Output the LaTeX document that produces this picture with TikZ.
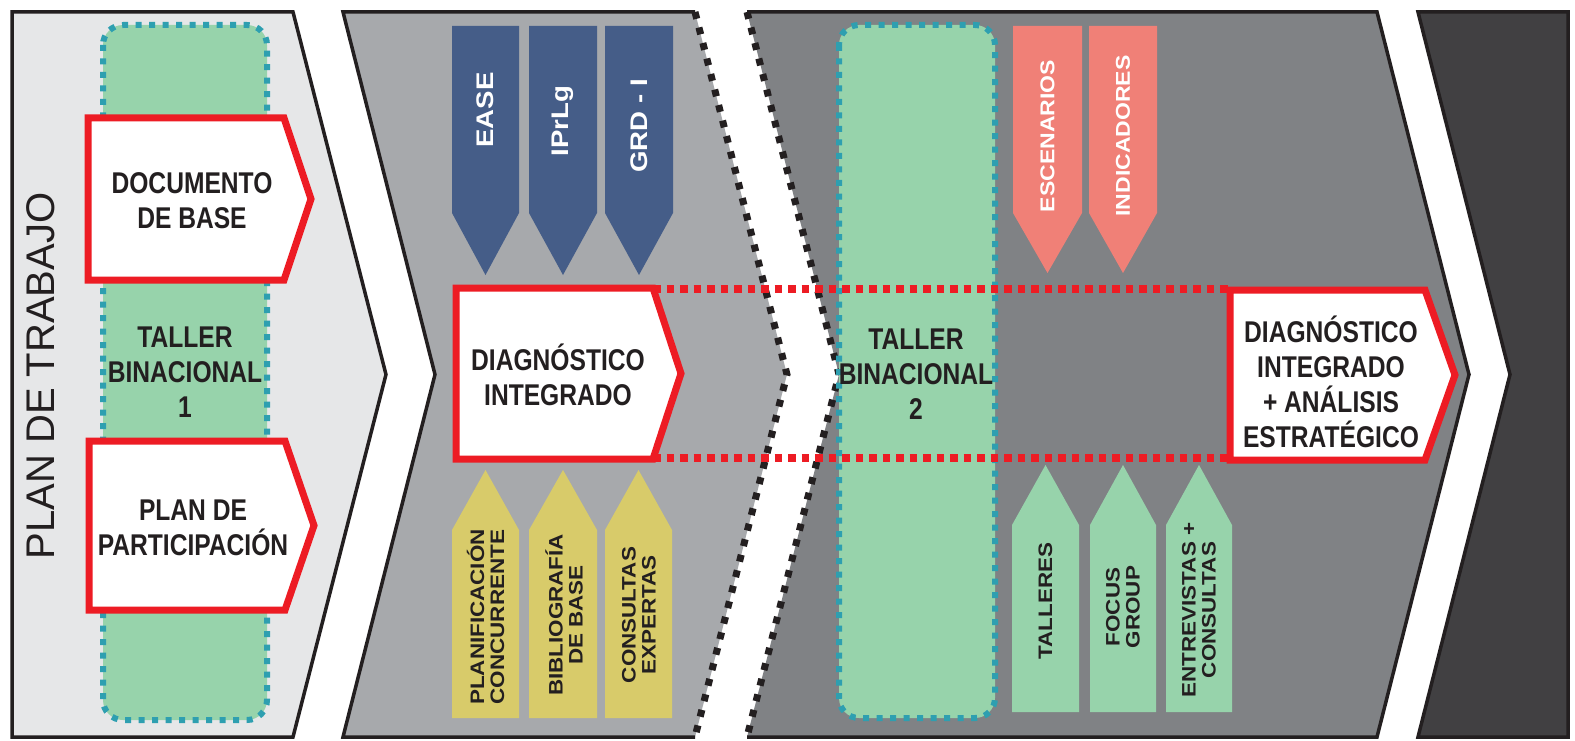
\documentclass[tikz,border=0pt]{standalone}
\usepackage{fontspec}
\setmainfont{Liberation Sans}
\newfontfamily\condfont[FakeStretch=0.82]{Liberation Sans Bold}
\newfontfamily\widefont[FakeStretch=1.15]{Liberation Sans Bold}
\definecolor{ink}{HTML}{231F20}
\definecolor{pone}{HTML}{E6E7E8}
\definecolor{ptwo}{HTML}{A7A9AC}
\definecolor{pthree}{HTML}{808285}
\definecolor{pfour}{HTML}{414042}
\definecolor{greenfill}{HTML}{97D3AB}
\definecolor{tealline}{HTML}{2E9FB0}
\definecolor{bluearrow}{HTML}{455D88}
\definecolor{yellowarrow}{HTML}{D8CB6A}
\definecolor{salmonarrow}{HTML}{F08077}
\definecolor{redline}{HTML}{ED1C24}
\newcommand\pentarrow[6]{\fill[#6] (#1,#3) -- (#2,#3) -- (#2,#4) -- ({(#1+#2)/2},#5) -- (#1,#4) -- cycle;}
\begin{document}
\begin{tikzpicture}[x=1pt,y=-1pt,
  panelline/.style={draw=ink,line width=3.5pt,line join=miter},
  blackdots/.style={draw=ink,line width=7pt,dash pattern=on 7pt off 9pt},
  tealbox/.style={draw=tealline,fill=greenfill,line width=6pt,dash pattern=on 6pt off 7.5pt,rounded corners=20pt},
  reddots/.style={draw=redline,line width=8pt,dash pattern=on 7.5pt off 6pt},
  redbox/.style={draw=redline,fill=white,line width=7pt,line join=miter},
  bigtxt/.style={font=\condfont\fontsize{30}{35}\selectfont,text=ink,align=center,inner sep=0pt},
  vtxt/.style={rotate=90,align=center,inner sep=0pt},
  toptxt/.style={vtxt,text=white,font=\widefont\fontsize{24}{26}\selectfont},
  saltxt/.style={vtxt,text=white,font=\widefont\fontsize{20}{22}\selectfont},
  bottxt/.style={vtxt,text=ink,font=\widefont\fontsize{19.5}{20}\selectfont}]
\useasboundingbox (0,0) rectangle (1575,741);
% panels
\path[fill=pone,panelline] (12,12) -- (293,12) -- (386,374.5) -- (293,737) -- (12,737) -- cycle;
\fill[ptwo] (343,12) -- (695,12) -- (787,374.5) -- (695,737) -- (343,737) -- (435,374.5) -- cycle;
\draw[panelline] (695,12) -- (343,12) -- (435,374.5) -- (343,737) -- (695,737);
\draw[blackdots] (695,12) -- (787,374.5) -- (695,737);
\fill[pthree] (747,12) -- (1377,12) -- (1469,374.5) -- (1377,737) -- (747,737) -- (839,374.5) -- cycle;
\draw[panelline] (747,12) -- (1377,12) -- (1469,374.5) -- (1377,737) -- (747,737);
\draw[blackdots] (747,12) -- (839,374.5) -- (747,737);
\path[fill=pfour,panelline] (1418,12) -- (1568,12) -- (1568,737) -- (1418,737) -- (1510,374.5) -- cycle;
% green workshop boxes
\path[tealbox] (103,25) rectangle (267,720);
\path[tealbox] (839,25) rectangle (995,718);
% red dotted links
\coordinate (linkta) at (653,289);
\coordinate (linktb) at (1230,289);
\coordinate (linkba) at (653,458);
\coordinate (linkbb) at (1230,458);
\draw[reddots] (linkta) -- (linktb);
\draw[reddots] (linkba) -- (linkbb);
% red pentagons
\path[redbox] (88,118) -- (284,118) -- (311,199) -- (284,280) -- (88,280) -- cycle;
\path[redbox] (89,441) -- (285,441) -- (314,525.5) -- (285,610) -- (89,610) -- cycle;
\path[redbox] (456,288) -- (653,288) -- (681,373.5) -- (653,459) -- (456,459) -- cycle;
\path[redbox] (1230,290) -- (1425,290) -- (1455,375) -- (1425,460) -- (1230,460) -- cycle;
% arrows
\pentarrow{452}{519}{26}{213}{275}{bluearrow}
\pentarrow{529}{597}{26}{213}{275}{bluearrow}
\pentarrow{605}{673}{26}{213}{275}{bluearrow}
\pentarrow{452}{519}{718}{530}{470}{yellowarrow}
\pentarrow{529}{597}{718}{530}{470}{yellowarrow}
\pentarrow{605}{672}{718}{530}{470}{yellowarrow}
\pentarrow{1013}{1082}{26}{213}{273}{salmonarrow}
\pentarrow{1089}{1157}{26}{213}{273}{salmonarrow}
\pentarrow{1012}{1079}{712}{525}{465}{greenfill}
\pentarrow{1090}{1156}{712}{525}{465}{greenfill}
\pentarrow{1166}{1232}{712}{525}{465}{greenfill}
% texts
\node[rotate=90,text=ink,font=\fontsize{40}{42}\selectfont,inner sep=0pt] (plantrabajo) at (41,376) {PLAN DE TRABAJO};
\node[bigtxt] (docbase) at (192,201) {DOCUMENTO\\DE BASE};
\node[bigtxt] (taller1) at (185,372) {TALLER\\BINACIONAL\\1};
\node[bigtxt] (planpart) at (193,528) {PLAN DE\\PARTICIPACIÓN};
\node[bigtxt] (diag1) at (558,375) {DIAGNÓSTICO\\INTEGRADO};
\node[bigtxt] (taller2) at (916,374) {TALLER\\BINACIONAL\\2};
\node[bigtxt] (diag2) at (1331,382) {DIAGNÓSTICO\\INTEGRADO\\+ ANÁLISIS\\ESTRATÉGICO};
\node[toptxt] (ease) at (485.5,110) {EASE};
\node[toptxt] (iprlg) at (563,121) {IPrLg};
\node[toptxt] (grd) at (639,126) {GRD - I};
\node[saltxt] (escen) at (1047.5,136) {ESCENARIOS};
\node[saltxt] (indic) at (1123,136) {INDICADORES};
\node[bottxt] (planif) at (485.5,617) {PLANIFICACIÓN\\CONCURRENTE};
\node[bottxt] (biblio) at (564,615) {BIBLIOGRAFÍA\\DE BASE};
\node[bottxt] (consul) at (639,615) {CONSULTAS\\EXPERTAS};
\node[bottxt] (talleres) at (1045.5,601) {TALLERES};
\node[bottxt] (focus) at (1123,607) {FOCUS\\GROUP};
\node[bottxt] (entrev) at (1199,610) {ENTREVISTAS +\\CONSULTAS};
\end{tikzpicture}
\end{document}
